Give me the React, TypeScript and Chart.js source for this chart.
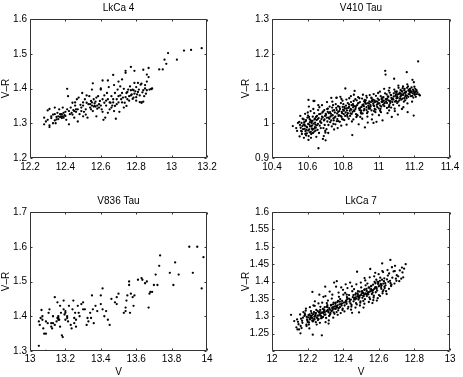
import { useEffect, useRef } from 'react';
import { Chart, registerables } from 'chart.js';
Chart.register(...registerables);

// ---------- DATA ----------
const lkca4Title = 'LkCa 4';
const lkca4Points: number[][] = [
  [13.17,1.516],[13.11,1.511],[13.07,1.509],[13.03,1.483],[12.98,1.502],[12.96,1.483],[12.97,1.471],[12.93,1.455],[12.95,1.455],
  [12.87,1.459],[12.87,1.433],[12.86,1.44],[12.84,1.454],[12.79,1.451],[12.77,1.462],[12.74,1.451],[12.74,1.445],[12.72,1.426],
  [12.67,1.439],[12.64,1.423],[12.61,1.423],[12.89,1.40],[12.885,1.398],[12.86,1.395],[12.85,1.41],[12.83,1.414],[12.83,1.36],[12.84,1.362],
  [12.28,1.316],[12.28,1.297],[12.30,1.337],[12.30,1.31],[12.31,1.294],[12.31,1.289],[12.31,1.341],[12.32,1.315],[12.33,1.30],[12.33,1.325],[12.32,1.32],[12.29,1.305],
  [12.34,1.345],[12.34,1.326],[12.345,1.30],[12.35,1.311],[12.355,1.33],[12.36,1.32],[12.365,1.34],[12.37,1.326],[12.37,1.318],[12.375,1.319],[12.36,1.312],[12.35,1.318],[12.375,1.325],[12.38,1.315],[12.34,1.308],
  [12.38,1.326],[12.385,1.345],[12.39,1.316],[12.395,1.323],[12.40,1.333],[12.40,1.321],[12.41,1.399],[12.41,1.34],[12.415,1.378],[12.42,1.297],[12.425,1.326],[12.43,1.345],[12.39,1.33],[12.405,1.31],[12.42,1.335],[12.385,1.32],
  [12.435,1.33],[12.44,1.359],[12.445,1.338],[12.45,1.316],[12.455,1.351],[12.46,1.333],[12.465,1.369],[12.47,1.34],[12.475,1.374],[12.48,1.326],[12.44,1.325],[12.45,1.335],[12.46,1.34],[12.47,1.305],[12.455,1.36],
  [12.485,1.353],[12.49,1.335],[12.495,1.387],[12.50,1.351],[12.505,1.333],[12.51,1.369],[12.515,1.34],[12.52,1.359],[12.525,1.316],[12.53,1.355],[12.49,1.345],[12.50,1.36],[12.515,1.325],[12.52,1.38],[12.50,1.32],
  [12.535,1.378],[12.54,1.345],[12.545,1.364],[12.55,1.351],[12.55,1.397],[12.555,1.335],[12.56,1.369],[12.565,1.357],[12.57,1.348],[12.575,1.374],[12.58,1.351],[12.54,1.355],[12.55,1.36],[12.56,1.348],[12.57,1.362],[12.545,1.34],[12.565,1.35],[12.58,1.342],[12.555,1.415],[12.575,1.32],
  [12.585,1.378],[12.59,1.345],[12.595,1.364],[12.60,1.397],[12.60,1.351],[12.61,1.333],[12.61,1.369],[12.62,1.359],[12.625,1.316],[12.63,1.351],[12.59,1.355],[12.605,1.34],[12.62,1.38],[12.63,1.365],[12.615,1.31],[12.60,1.40],
  [12.635,1.387],[12.64,1.369],[12.645,1.404],[12.65,1.34],[12.655,1.359],[12.66,1.378],[12.665,1.351],[12.67,1.369],[12.675,1.335],[12.68,1.387],[12.65,1.36],[12.66,1.345],[12.67,1.36],[12.64,1.33],[12.68,1.35],[12.675,1.41],
  [12.685,1.313],[12.69,1.369],[12.695,1.397],[12.70,1.378],[12.705,1.333],[12.71,1.406],[12.715,1.369],[12.72,1.387],[12.725,1.374],[12.73,1.399],[12.69,1.355],[12.70,1.36],[12.71,1.38],[12.72,1.36],[12.73,1.345],[12.70,1.42],
  [12.735,1.359],[12.745,1.387],[12.75,1.369],[12.755,1.397],[12.76,1.378],[12.765,1.406],[12.775,1.383],[12.78,1.397],[12.74,1.375],[12.75,1.39],[12.76,1.365],[12.77,1.38],[12.78,1.37],[12.745,1.35],[12.77,1.395],
  [12.785,1.374],[12.79,1.416],[12.795,1.392],[12.80,1.404],[12.805,1.383],[12.81,1.416],[12.815,1.397],[12.82,1.361],[12.825,1.411],[12.83,1.359],[12.79,1.385],[12.80,1.375],[12.81,1.39],[12.82,1.38],[12.80,1.365],[12.785,1.395],
  [12.835,1.389],[12.845,1.378],[12.85,1.40],[12.86,1.42],[12.875,1.397],[12.885,1.399],[12.84,1.395],[12.855,1.385],
];

const v410Title = 'V410 Tau';
const v410Points: number[][] = [
  [10.517,0.992],[10.541,0.978],[10.546,1.001],[10.536,0.986],[10.605,1.067],[10.638,1.064],[10.763,1.074],
  [10.561,0.987],[10.553,1.004],[10.568,0.969],[10.557,0.995],[10.572,1.013],[10.564,0.978],[10.559,1.021],[10.571,0.992],[10.555,0.962],[10.566,1.001],
  [10.583,0.984],[10.591,1.009],[10.577,0.996],[10.596,0.971],[10.586,1.027],[10.579,0.958],[10.594,0.99],[10.588,0.977],[10.599,1.016],[10.581,1.003],[10.592,0.965],[10.585,0.993],
  [10.603,0.998],[10.617,1.035],[10.609,0.982],[10.622,1.006],[10.605,0.952],[10.614,0.991],[10.62,0.969],[10.607,1.048],[10.611,1.012],[10.624,0.985],[10.602,1.022],[10.618,0.975],[10.613,1.003],[10.606,0.963],
  [10.628,1.007],[10.641,0.989],[10.633,1.064],[10.647,1.018],[10.63,0.972],[10.644,0.996],[10.637,1.029],[10.649,0.961],[10.626,0.994],[10.639,1.011],[10.645,0.979],[10.632,1.041],[10.642,1.002],[10.635,0.984],
  [10.653,1.021],[10.668,0.993],[10.659,1.038],[10.671,1.006],[10.661,0.928],[10.656,0.981],[10.673,1.027],[10.664,0.972],[10.651,1.009],[10.666,1.046],[10.658,0.998],[10.674,0.986],[10.662,1.015],
  [10.678,1.012],[10.691,0.963],[10.683,1.031],[10.696,0.995],[10.686,0.955],[10.681,1.052],[10.698,1.021],[10.689,0.986],[10.677,1.001],[10.694,1.038],[10.685,1.017],[10.699,0.978],[10.692,1.008],
  [10.703,1.024],[10.717,0.995],[10.709,1.061],[10.722,1.013],[10.701,0.951],[10.714,1.042],[10.706,0.983],[10.719,1.029],[10.711,1.005],[10.724,1.048],[10.708,1.016],[10.716,0.972],[10.713,1.033],
  [10.728,1.019],[10.743,1.052],[10.733,1.073],[10.747,1.008],[10.736,0.991],[10.741,1.036],[10.731,1.027],[10.749,0.982],[10.738,1.045],[10.745,1.014],[10.727,1.003],[10.739,1.062],[10.734,1.022],
  [10.753,1.031],[10.767,1.012],[10.762,1.073],[10.771,1.049],[10.756,0.997],[10.764,1.038],[10.758,1.055],[10.774,1.021],[10.751,1.016],[10.769,0.986],[10.761,1.044],[10.766,1.028],[10.773,1.006],
  [10.778,1.035],[10.791,1.018],[10.784,1.076],[10.797,1.047],[10.781,1.004],[10.794,1.029],[10.787,1.058],[10.799,1.011],[10.776,1.023],[10.789,0.993],[10.796,1.065],[10.782,1.041],[10.792,1.033],
  [10.803,1.026],[10.816,1.051],[10.812,1.1],[10.821,1.037],[10.806,1.009],[10.818,1.068],[10.809,1.042],[10.824,1.019],[10.801,1.055],[10.814,1.031],[10.819,0.996],[10.807,1.047],[10.822,1.024],
  [10.828,1.044],[10.841,1.028],[10.834,1.072],[10.847,1.052],[10.831,1.013],[10.844,1.061],[10.837,1.036],[10.849,1.005],[10.826,1.058],[10.839,1.021],[10.846,1.039],[10.833,1.047],[10.843,1.078],
  [10.853,1.033],[10.851,0.966],[10.866,1.049],[10.859,1.064],[10.872,1.026],[10.857,1.011],[10.864,1.093],[10.869,1.041],[10.855,1.055],[10.874,1.018],[10.861,1.037],[10.868,1.069],[10.856,1.046],
  [10.878,1.052],[10.892,1.038],[10.884,1.075],[10.897,1.045],[10.881,1.022],[10.894,1.061],[10.887,0.997],[10.899,1.031],[10.876,1.066],[10.889,1.043],[10.896,1.018],[10.883,1.057],[10.891,1.072],
  [10.903,1.047],[10.917,1.063],[10.909,1.028],[10.922,0.988],[10.906,1.071],[10.914,1.054],[10.901,1.036],[10.919,1.041],[10.911,1.082],[10.924,1.059],[10.907,1.013],[10.916,1.049],[10.921,1.067],
  [10.928,1.056],[10.943,1.042],[10.933,1.074],[10.947,1.063],[10.936,1.019],[10.941,1.051],[10.931,1.038],[10.949,1.081],[10.938,1.002],[10.945,1.046],[10.927,1.066],[10.939,1.058],[10.934,1.029],
  [10.953,1.052],[10.967,1.068],[10.959,1.037],[10.971,1.084],[10.956,1.061],[10.964,1.025],[10.958,1.074],[10.974,1.049],[10.951,1.042],[10.969,1.057],[10.961,1.011],[10.966,1.063],[10.973,1.035],
  [10.978,1.061],[10.991,1.047],[10.984,1.079],[10.997,1.058],[10.981,1.032],[10.994,1.071],[10.987,1.004],[10.999,1.043],[10.976,1.066],[10.989,1.053],[10.996,1.087],[10.982,1.039],[10.992,1.062],
  [11.003,1.057],[11.017,1.072],[11.009,1.041],[11.022,1.066],[11.006,1.091],[11.014,1.048],[11.001,1.023],[11.019,1.061],[11.011,1.078],[11.024,1.053],[11.007,1.036],[11.016,1.069],[11.021,1.008],
  [11.028,1.064],[11.036,1.151],[11.038,1.14],[11.047,1.071],[11.031,1.049],[11.044,1.083],[11.033,1.058],[11.049,1.029],[11.026,1.075],[11.041,1.062],[11.046,1.044],[11.035,1.086],[11.043,1.068],
  [11.053,1.066],[11.067,1.081],[11.059,1.052],[11.071,1.073],[11.056,1.094],[11.064,1.058],[11.058,1.037],[11.074,1.069],[11.051,1.077],[11.069,1.045],[11.061,1.088],[11.066,1.063],[11.073,1.018],
  [11.078,1.071],[11.086,1.128],[11.084,1.086],[11.097,1.064],[11.081,1.053],[11.094,1.079],[11.087,1.097],[11.099,1.072],[11.076,1.061],[11.089,1.042],[11.096,1.083],[11.082,1.068],[11.092,1.091],
  [11.103,1.077],[11.117,1.088],[11.109,1.062],[11.122,1.096],[11.106,1.083],[11.114,1.051],[11.101,1.092],[11.119,1.071],[11.111,1.102],[11.124,1.079],[11.107,1.025],[11.116,1.066],[11.121,1.085],
  [11.128,1.083],[11.143,1.095],[11.133,1.071],[11.147,1.088],[11.136,1.106],[11.141,1.062],[11.131,1.091],[11.149,1.077],[11.138,1.046],[11.145,1.099],[11.127,1.068],[11.139,1.085],[11.134,1.101],
  [11.153,1.091],[11.157,1.147],[11.167,1.084],[11.159,1.102],[11.171,1.093],[11.156,1.072],[11.164,1.106],[11.161,1.057],[11.174,1.088],[11.151,1.081],[11.169,1.097],[11.162,1.032],[11.166,1.076],
  [11.178,1.094],[11.191,1.086],[11.184,1.103],[11.197,1.118],[11.181,1.078],[11.194,1.091],[11.187,1.062],[11.199,1.084],[11.176,1.099],[11.189,1.125],[11.196,1.022],[11.182,1.089],[11.192,1.097],
  [11.203,1.088],[11.212,1.095],[11.208,1.076],[11.221,1.178],[11.217,1.089],[11.226,1.083],[11.205,1.099],[11.214,1.084],[11.231,1.08],[11.209,1.092],
  // denser core
  [10.574,0.983],[10.582,0.997],[10.589,1.006],[10.597,0.988],[10.603,0.979],[10.61,0.996],[10.616,1.009],[10.621,0.992],[10.627,0.981],[10.634,0.999],[10.641,1.013],[10.646,0.987],
  [10.567,0.976],[10.578,1.011],[10.593,0.981],[10.608,1.018],[10.623,1.001],[10.638,0.976],[10.652,0.994],[10.587,0.969],[10.612,0.974],[10.629,1.019],[10.601,1.031],[10.619,0.958],
  [10.657,1.012],[10.665,1.026],[10.672,1.003],[10.681,1.019],[10.688,1.034],[10.695,1.011],[10.702,1.027],[10.71,1.041],[10.718,1.016],[10.726,1.032],
  [10.733,1.008],[10.741,1.023],[10.749,1.038],[10.756,1.019],[10.764,1.006],[10.772,1.033],[10.779,1.047],[10.786,1.021],[10.794,1.012],[10.799,1.039],
  [10.804,1.036],[10.811,1.021],[10.818,1.043],[10.826,1.029],[10.833,1.054],[10.841,1.041],[10.848,1.027],[10.856,1.052],[10.863,1.035],[10.871,1.047],
  [10.878,1.024],[10.886,1.058],[10.893,1.041],[10.901,1.028],[10.908,1.052],[10.916,1.037],[10.923,1.061],[10.931,1.046],[10.938,1.033],[10.946,1.057],
  [10.954,1.048],[10.962,1.066],[10.97,1.052],[10.977,1.041],[10.985,1.063],[10.993,1.055],[11.001,1.067],[11.008,1.051],[11.016,1.062],[11.023,1.074],
  [11.031,1.057],[11.039,1.069],[11.046,1.058],[11.054,1.076],[11.061,1.064],[11.069,1.081],[11.076,1.069],[11.084,1.077],[11.091,1.062],[11.099,1.088],
  [11.106,1.073],[11.113,1.084],[11.121,1.076],[11.128,1.093],[11.136,1.081],[11.143,1.072],[11.151,1.088],[11.158,1.079],[11.166,1.094],[11.173,1.083],
  [11.181,1.091],[11.188,1.079],[11.196,1.093],[11.203,1.082],[10.959,1.072],[11.012,1.032],[11.057,1.047],[11.103,1.058],[11.148,1.066],[11.194,1.074],
  [10.66,1.052],[10.7,0.973],[10.745,0.998],[10.79,1.07],[10.86,1.082],[10.93,1.079],[10.97,1.001],[11.03,1.099],[11.06,1.102],[11.11,1.108],[11.16,1.112],[11.09,1.035],[11.13,1.041],[11.2,1.105],
];

const v836Title = 'V836 Tau';
const v836Points: number[][] = [
  [13.05,1.315],[13.09,1.30],[13.05,1.385],[13.055,1.375],[13.06,1.395],[13.065,1.418],[13.07,1.40],[13.075,1.365],[13.08,1.35],[13.09,1.35],
  [13.09,1.385],[13.10,1.38],[13.105,1.41],[13.11,1.42],[13.12,1.37],[13.125,1.365],[13.13,1.40],[13.13,1.38],[13.14,1.455],[13.14,1.375],
  [13.15,1.385],[13.155,1.44],[13.16,1.40],[13.16,1.395],[13.165,1.39],[13.17,1.43],[13.17,1.37],[13.175,1.41],[13.18,1.345],[13.185,1.34],
  [13.19,1.42],[13.19,1.445],[13.195,1.405],[13.20,1.39],[13.20,1.415],[13.21,1.40],[13.215,1.385],[13.22,1.43],[13.23,1.375],[13.235,1.365],
  [13.24,1.42],[13.245,1.445],[13.25,1.38],[13.25,1.395],[13.255,1.41],[13.26,1.37],[13.27,1.43],[13.275,1.41],[13.28,1.40],[13.29,1.435],
  [13.30,1.44],[13.31,1.42],[13.32,1.375],[13.325,1.395],[13.33,1.385],[13.34,1.41],[13.35,1.46],[13.355,1.42],[13.36,1.38],[13.37,1.43],
  [13.38,1.415],[13.40,1.46],[13.40,1.435],[13.41,1.48],[13.41,1.42],[13.42,1.40],[13.43,1.415],[13.44,1.39],[13.45,1.375],[13.46,1.45],
  [13.48,1.44],[13.49,1.435],[13.49,1.455],[13.50,1.465],[13.53,1.41],[13.54,1.415],[13.54,1.425],[13.545,1.445],[13.55,1.46],[13.56,1.50],
  [13.56,1.49],[13.565,1.41],[13.57,1.465],[13.58,1.455],[13.585,1.43],[13.59,1.46],[13.61,1.505],[13.63,1.51],[13.635,1.505],[13.65,1.495],
  [13.66,1.50],[13.67,1.425],[13.675,1.465],[13.68,1.47],[13.69,1.47],[13.70,1.49],[13.71,1.52],[13.72,1.49],[13.73,1.545],[13.735,1.575],
  [13.79,1.525],[13.81,1.49],[13.82,1.555],[13.84,1.52],[13.90,1.60],[13.92,1.525],[13.945,1.60],[13.97,1.48],[13.98,1.57],[14.0,1.55],
  [13.155,1.395],[13.16,1.39],[13.2,1.41],[13.12,1.38],[13.07,1.39],[13.21,1.395],[13.26,1.39],[13.3,1.42],[13.345,1.395],
];

const lkca7Title = 'LkCa 7';
const lkca7Points: number[][] = [
  [12.107,1.304],[12.16,1.251],[12.229,1.247],[12.28,1.245],[12.125,1.286],[12.143,1.262],
  [12.137,1.268],[12.146,1.284],[12.152,1.262],[12.141,1.291],[12.149,1.277],
  [12.158,1.305],[12.171,1.281],[12.163,1.293],[12.176,1.312],[12.166,1.266],[12.174,1.296],[12.161,1.272],[12.169,1.287],
  [12.184,1.308],[12.197,1.291],[12.189,1.316],[12.201,1.283],[12.186,1.304],[12.194,1.272],[12.182,1.301],[12.199,1.287],[12.191,1.322],[12.204,1.297],[12.193,1.276],
  [12.208,1.282],[12.221,1.297],[12.213,1.326],[12.226,1.288],[12.211,1.305],[12.219,1.315],[12.207,1.276],[12.224,1.302],[12.216,1.298],[12.229,1.285],[12.214,1.293],[12.227,1.37],[12.222,1.309],
  [12.233,1.331],[12.246,1.283],[12.238,1.299],[12.251,1.276],[12.236,1.312],[12.244,1.304],[12.232,1.287],[12.249,1.318],[12.241,1.343],[12.254,1.295],[12.239,1.291],[12.247,1.309],[12.243,1.301],
  [12.258,1.289],[12.271,1.318],[12.263,1.302],[12.276,1.294],[12.261,1.337],[12.269,1.281],[12.257,1.315],[12.274,1.308],[12.266,1.362],[12.279,1.296],[12.264,1.311],[12.272,1.327],[12.268,1.305],
  [12.283,1.297],[12.296,1.326],[12.288,1.309],[12.301,1.283],[12.286,1.321],[12.294,1.304],[12.282,1.339],[12.299,1.385],[12.291,1.314],[12.304,1.295],[12.289,1.356],[12.297,1.312],[12.293,1.318],
  [12.308,1.338],[12.321,1.301],[12.313,1.318],[12.326,1.305],[12.311,1.332],[12.319,1.288],[12.307,1.327],[12.324,1.371],[12.316,1.314],[12.329,1.309],[12.314,1.345],[12.322,1.323],[12.318,1.279],
  [12.333,1.315],[12.346,1.339],[12.338,1.324],[12.351,1.307],[12.336,1.351],[12.344,1.296],[12.332,1.333],[12.349,1.397],[12.341,1.319],[12.354,1.328],[12.339,1.362],[12.347,1.311],[12.343,1.326],
  [12.358,1.321],[12.371,1.344],[12.363,1.312],[12.376,1.356],[12.361,1.329],[12.369,1.304],[12.357,1.339],[12.374,1.368],[12.366,1.325],[12.379,1.334],[12.364,1.401],[12.372,1.317],[12.368,1.331],
  [12.383,1.349],[12.396,1.318],[12.388,1.335],[12.401,1.362],[12.386,1.309],[12.394,1.344],[12.382,1.326],[12.399,1.376],[12.391,1.331],[12.404,1.339],[12.389,1.383],[12.397,1.322],[12.393,1.337],
  [12.408,1.331],[12.421,1.355],[12.413,1.341],[12.426,1.322],[12.411,1.367],[12.419,1.336],[12.407,1.314],[12.424,1.381],[12.416,1.345],[12.429,1.327],[12.414,1.392],[12.422,1.349],[12.418,1.342],
  [12.433,1.361],[12.446,1.328],[12.438,1.347],[12.451,1.372],[12.436,1.342],[12.444,1.319],[12.432,1.351],[12.449,1.386],[12.441,1.337],[12.454,1.355],[12.439,1.397],[12.447,1.333],[12.443,1.348],
  [12.458,1.343],[12.471,1.366],[12.463,1.352],[12.476,1.334],[12.461,1.378],[12.469,1.325],[12.457,1.361],[12.474,1.392],[12.466,1.348],[12.479,1.357],[12.478,1.428],[12.472,1.338],[12.468,1.354],
  [12.483,1.372],[12.496,1.339],[12.488,1.358],[12.501,1.383],[12.486,1.348],[12.494,1.331],[12.482,1.362],[12.499,1.397],[12.491,1.353],[12.504,1.366],[12.489,1.311],[12.497,1.343],[12.493,1.359],
  [12.508,1.353],[12.521,1.377],[12.513,1.344],[12.526,1.389],[12.511,1.367],[12.519,1.336],[12.507,1.371],[12.524,1.403],[12.516,1.358],[12.529,1.363],[12.514,1.325],[12.522,1.349],[12.518,1.364],
  [12.533,1.358],[12.546,1.382],[12.538,1.368],[12.551,1.349],[12.536,1.394],[12.544,1.341],[12.532,1.373],[12.549,1.412],[12.541,1.363],[12.554,1.376],[12.552,1.436],[12.547,1.354],[12.543,1.369],
  [12.558,1.387],[12.571,1.354],[12.563,1.373],[12.576,1.399],[12.561,1.364],[12.569,1.346],[12.557,1.378],[12.574,1.415],[12.566,1.368],[12.579,1.382],[12.564,1.338],[12.572,1.359],[12.568,1.375],
  [12.583,1.369],[12.596,1.393],[12.588,1.379],[12.601,1.361],[12.586,1.405],[12.594,1.352],[12.582,1.384],[12.599,1.421],[12.591,1.374],[12.604,1.388],[12.589,1.345],[12.597,1.398],
  [12.608,1.411],[12.621,1.366],[12.613,1.384],[12.626,1.375],[12.611,1.393],[12.619,1.452],[12.607,1.358],[12.624,1.427],[12.616,1.389],[12.629,1.401],[12.614,1.379],[12.622,1.371],
  [12.633,1.381],[12.646,1.406],[12.638,1.389],[12.651,1.417],[12.636,1.395],[12.644,1.364],[12.632,1.385],[12.649,1.433],[12.641,1.372],[12.654,1.399],
  [12.658,1.423],[12.671,1.391],[12.663,1.402],[12.676,1.411],[12.665,1.462],[12.669,1.387],[12.657,1.379],[12.674,1.441],[12.666,1.395],
  [12.683,1.429],[12.696,1.408],[12.688,1.394],[12.701,1.418],[12.691,1.445],[12.699,1.402],
  [12.709,1.415],[12.718,1.432],[12.726,1.408],[12.733,1.426],[12.742,1.437],[12.737,1.412],[12.751,1.45],[12.715,1.401],
  // denser core
  [12.195,1.298],[12.205,1.303],[12.212,1.291],[12.218,1.301],[12.225,1.295],[12.231,1.306],[12.237,1.293],[12.243,1.309],[12.25,1.297],[12.256,1.302],
  [12.262,1.292],[12.268,1.313],[12.275,1.301],[12.281,1.311],[12.287,1.298],[12.293,1.319],[12.3,1.305],[12.306,1.315],[12.312,1.326],[12.318,1.311],
  [12.325,1.319],[12.331,1.331],[12.337,1.316],[12.343,1.334],[12.35,1.322],[12.356,1.336],[12.362,1.327],[12.368,1.341],[12.375,1.323],[12.381,1.342],
  [12.462,1.349],[12.468,1.362],[12.475,1.351],[12.481,1.366],[12.487,1.354],[12.493,1.371],[12.5,1.361],[12.506,1.372],[12.512,1.359],[12.518,1.376],
  [12.525,1.366],[12.531,1.379],[12.537,1.364],[12.543,1.383],[12.55,1.371],[12.556,1.386],[12.562,1.374],[12.568,1.391],[12.575,1.379],[12.581,1.395],
  [12.587,1.383],[12.593,1.399],[12.6,1.386],[12.606,1.402],[12.612,1.392],[12.618,1.405],[12.625,1.394],[12.631,1.409],
  [12.21,1.265],[12.24,1.33],[12.3,1.358],[12.36,1.385],[12.42,1.362],[12.45,1.31],[12.52,1.41],[12.58,1.425],[12.62,1.43],[12.69,1.43],[12.73,1.44],
];

// axis ranges and tick steps: [min, max, step]
const lkca4X = [12.2, 13.2, 0.2];
const lkca4Y = [1.2, 1.6, 0.1];
const v410X = [10.4, 11.4, 0.2];
const v410Y = [0.9, 1.3, 0.1];
const v836X = [13, 14, 0.2];
const v836Y = [1.3, 1.7, 0.1];
const lkca7X = [12, 13, 0.2];
const lkca7Y = [1.2, 1.6, 0.05];
const yAxisLabel = 'V\u2013R';
const xAxisLabel = 'V';

// ---------- LAYOUT ----------
type PanelCfg = {
  title: string; points: number[][]; xr: number[]; yr: number[];
  showX: boolean; hideYTicks?: number[];
  left: number; top: number; w: number; h: number;
  area: { l: number; t: number; r: number; b: number };
  yTitlePad: number; xTickPad: number;
};

const FONT = 'Liberation Sans, Arial, Helvetica, sans-serif';

const framePlugin = {
  id: 'frameTicks',
  afterDatasetsDraw(chart: any) {
    const { ctx, chartArea: a, scales } = chart;
    const L = Math.round(a.left) + 0.5, R = Math.round(a.right) - 0.5;
    const T = Math.round(a.top) + 0.5, B = Math.round(a.bottom) - 0.5;
    ctx.save();
    ctx.strokeStyle = '#333';
    ctx.lineWidth = 1;
    ctx.beginPath();
    ctx.rect(L, T, R - L, B - T);
    const tl = 2;
    scales.x.ticks.forEach((t: any) => {
      const px = Math.round(scales.x.getPixelForValue(t.value)) + 0.5;
      ctx.moveTo(px, B); ctx.lineTo(px, B - tl);
      ctx.moveTo(px, T); ctx.lineTo(px, T + tl);
    });
    scales.y.ticks.forEach((t: any) => {
      const py = Math.round(scales.y.getPixelForValue(t.value)) + 0.5;
      ctx.moveTo(L, py); ctx.lineTo(L + tl, py);
      ctx.moveTo(R, py); ctx.lineTo(R - tl, py);
    });
    ctx.stroke();
    ctx.restore();
  },
};

const fmt = (v: number) => String(Math.round(v * 1000) / 1000);

function Panel({ cfg }: { cfg: PanelCfg }) {
  const ref = useRef<HTMLCanvasElement>(null);
  useEffect(() => {
    const { area, w, h } = cfg;
    const xAxisH = cfg.showX ? h - area.b : 20;
    const titleLH = 12;
    const titleCenter = area.t - 10.5;
    const padTop = titleCenter - titleLH / 2;
    const padBottom = area.t - padTop - titleLH;
    const chart = new Chart(ref.current as HTMLCanvasElement, {
      type: 'scatter',
      data: {
        datasets: [{
          data: cfg.points.map(p => ({ x: p[0], y: p[1] })),
          backgroundColor: '#000',
          borderWidth: 0,
          pointRadius: 1.15,
          pointHoverRadius: 1.15,
        }],
      },
      options: {
        animation: false,
        responsive: false,
        events: [],
        layout: { padding: { left: 0, top: 0, right: w - area.r, bottom: h - area.b - xAxisH } },
        plugins: {
          legend: { display: false },
          tooltip: { enabled: false },
          title: {
            display: true, text: cfg.title, color: '#000', fullSize: false,
            font: { family: FONT, size: 10, weight: 'normal', lineHeight: 1.2 },
            padding: { top: padTop, bottom: padBottom },
          },
        },
        scales: {
          x: {
            type: 'linear', min: cfg.xr[0], max: cfg.xr[1],
            grid: { display: false, drawTicks: false },
            border: { display: false },
            ticks: {
              stepSize: cfg.xr[2], autoSkip: false, maxRotation: 0, padding: cfg.xTickPad,
              color: '#000', font: { family: FONT, size: 10 }, callback: (v: any) => fmt(v),
            },
            title: {
              display: cfg.showX, text: xAxisLabel, color: '#000',
              font: { family: FONT, size: 10, lineHeight: 1 }, padding: { top: 0, bottom: 0 },
            },
            afterFit: (s: any) => { s.height = xAxisH; s.paddingLeft = 0; s.paddingRight = 0; },
          },
          y: {
            type: 'linear', min: cfg.yr[0], max: cfg.yr[1],
            grid: { display: false, drawTicks: false },
            border: { display: false },
            ticks: {
              stepSize: cfg.yr[2], autoSkip: false, padding: 3,
              color: '#000', font: { family: FONT, size: 10 },
              callback: (v: any) => (cfg.hideYTicks && cfg.hideYTicks.some(hv => Math.abs(hv - v) < 1e-6)) ? '' : fmt(v),
            },
            title: {
              display: true, text: yAxisLabel, color: '#000',
              font: { family: FONT, size: 10, lineHeight: 1.2 }, padding: { top: cfg.yTitlePad, bottom: 0 },
            },
            afterFit: (s: any) => { s.width = area.l; s.paddingTop = 0; s.paddingBottom = 0; },
          },
        },
      } as any,
      plugins: [framePlugin],
    });
    return () => chart.destroy();
  }, [cfg]);
  return (
    <canvas ref={ref} width={cfg.w} height={cfg.h}
      style={{ position: 'absolute', left: cfg.left, top: cfg.top, width: cfg.w, height: cfg.h }} />
  );
}

const panels: PanelCfg[] = [
  { title: lkca4Title, points: lkca4Points, xr: lkca4X, yr: lkca4Y, showX: false,
    left: 0, top: 0, w: 232, h: 190, area: { l: 30, t: 19, r: 207, b: 158 }, yTitlePad: 0, xTickPad: 3 },
  { title: v410Title, points: v410Points, xr: v410X, yr: v410Y, showX: false,
    left: 232, top: 0, w: 231, h: 190, area: { l: 40, t: 19, r: 218, b: 158 }, yTitlePad: 8, xTickPad: 3 },
  { title: v836Title, points: v836Points, xr: v836X, yr: v836Y, showX: true,
    left: 0, top: 190, w: 232, h: 187, area: { l: 30, t: 22, r: 207, b: 161 }, yTitlePad: 0, xTickPad: 2 },
  { title: lkca7Title, points: lkca7Points, xr: lkca7X, yr: lkca7Y, showX: true, hideYTicks: [1.2],
    left: 232, top: 190, w: 231, h: 187, area: { l: 40, t: 22, r: 218, b: 161 }, yTitlePad: 8, xTickPad: 2 },
];

export default function App() {
  return (
    <div style={{ position: 'fixed', left: 0, top: 0, width: 463, height: 377, background: '#fff', overflow: 'hidden' }}>
      {panels.map((p, i) => <Panel key={i} cfg={p} />)}
    </div>
  );
}
